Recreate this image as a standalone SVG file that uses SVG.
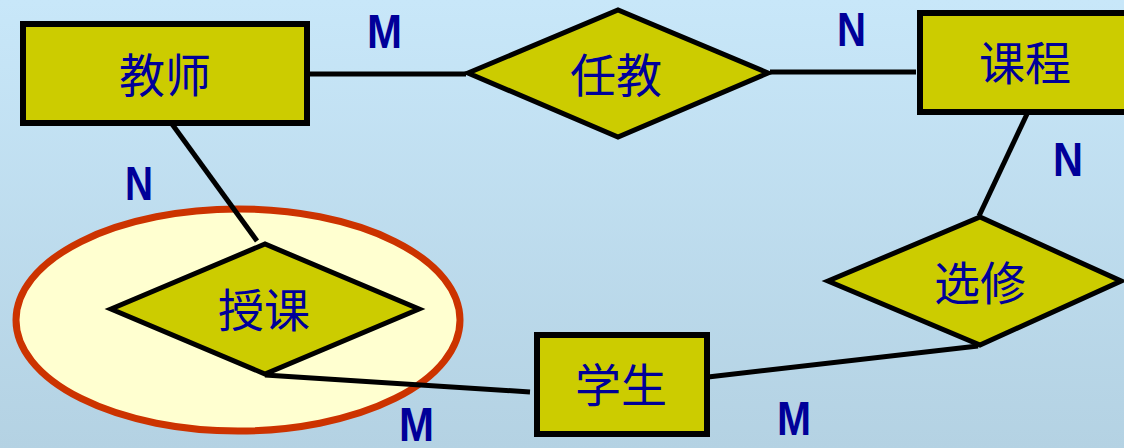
<svg xmlns="http://www.w3.org/2000/svg" width="1124" height="448" viewBox="0 0 1124 448">
<defs>
<linearGradient id="bg" x1="0" y1="0" x2="0" y2="1">
<stop offset="0" stop-color="#c8e7f9"/>
<stop offset="1" stop-color="#b4d2e3"/>
</linearGradient>
<style>
.ent{fill:#cccc00;stroke:#000;stroke-width:6}
.rel{fill:#cccc00;stroke:#000;stroke-width:5;stroke-linejoin:miter;stroke-miterlimit:10}
.lbl{font-family:"Noto Sans CJK SC","Noto Sans",sans-serif;font-size:46px;fill:#000099;text-anchor:middle}
.card{font-family:"Liberation Sans",Arial,sans-serif;font-size:48px;font-weight:bold;fill:#000099}
.conn line{stroke:#000;stroke-width:5}
</style>
</defs>
<rect x="0" y="0" width="1124" height="448" fill="url(#bg)"/>
<g id="highlight">
<ellipse cx="238" cy="320" rx="222" ry="111" fill="#ffffd0" stroke="#cc3300" stroke-width="7"/>
</g>
<g id="connectors" class="conn">
<line x1="307" y1="74" x2="466" y2="74"/>
<line x1="770" y1="72" x2="916" y2="72"/>
<line x1="1027" y1="114" x2="979" y2="216"/>
<line x1="978" y1="346" x2="708" y2="377"/>
<line x1="530" y1="392" x2="265" y2="375"/>
<line x1="172" y1="124" x2="257" y2="241"/>
</g>
<g id="n-teacher">
<rect class="ent" x="23" y="24" width="284" height="99"/>
<text class="lbl" x="165" y="92">教师</text>
</g>
<g id="n-teach">
<polygon class="rel" points="468,73 618,10 768,73 618,137"/>
<text class="lbl" x="616" y="92">任教</text>
</g>
<g id="n-course">
<rect class="ent" x="920" y="13" width="220" height="99"/>
<text class="lbl" x="1025" y="80">课程</text>
</g>
<g id="n-elective">
<polygon class="rel" points="828,281 980,217 1121,281 980,345"/>
<text class="lbl" x="980" y="300">选修</text>
</g>
<g id="n-student">
<rect class="ent" x="537" y="335" width="170" height="99"/>
<text class="lbl" x="621" y="402">学生</text>
</g>
<g id="n-lecture">
<polygon class="rel" points="111,309 265,244 419,309 265,374"/>
<text class="lbl" x="264" y="327">授课</text>
</g>
<g id="cardinalities">
<text class="card" x="367" y="48" textLength="35" lengthAdjust="spacingAndGlyphs">M</text>
<text class="card" x="837" y="46" textLength="29" lengthAdjust="spacingAndGlyphs">N</text>
<text class="card" x="125" y="200" textLength="28" lengthAdjust="spacingAndGlyphs">N</text>
<text class="card" x="1053" y="176" textLength="30" lengthAdjust="spacingAndGlyphs">N</text>
<text class="card" x="399" y="441" textLength="35" lengthAdjust="spacingAndGlyphs">M</text>
<text class="card" x="777" y="435" textLength="34" lengthAdjust="spacingAndGlyphs">M</text>
</g>
</svg>
